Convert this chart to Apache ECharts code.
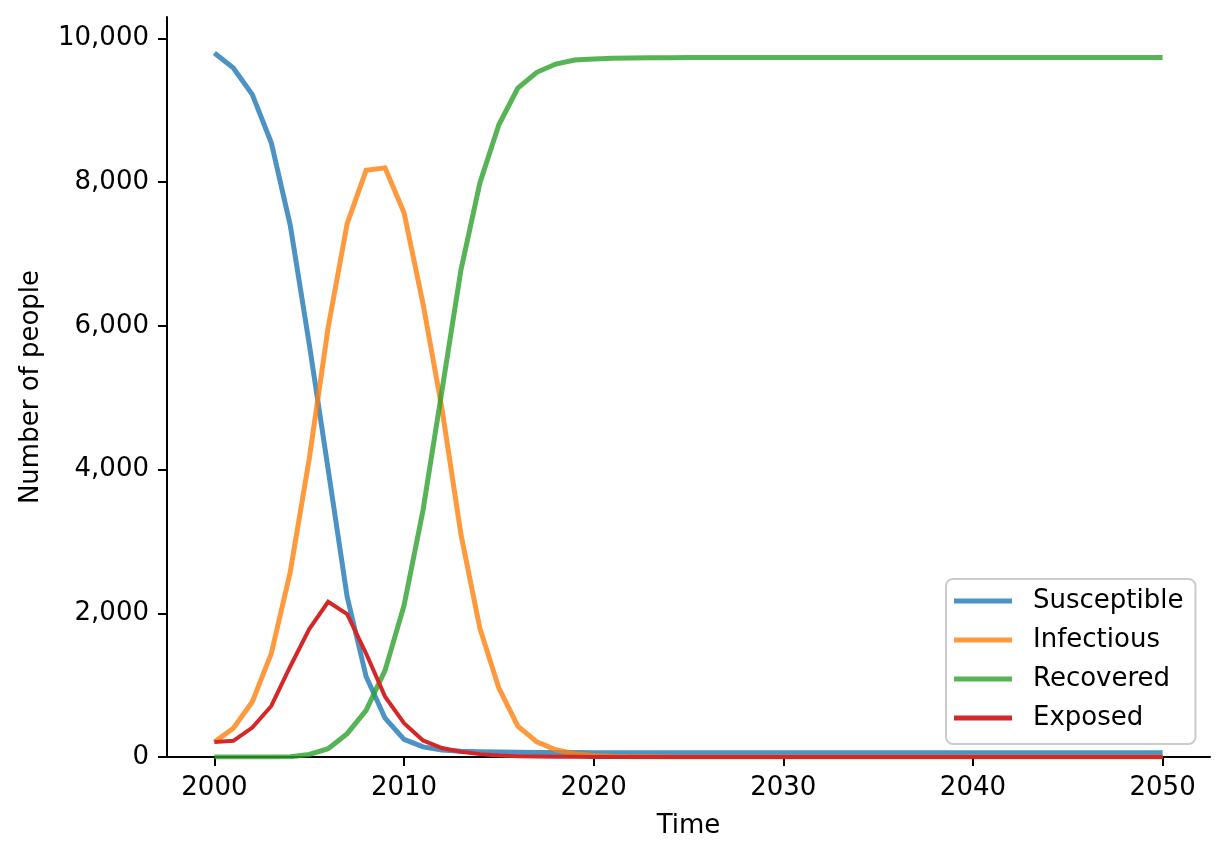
<!DOCTYPE html>
<html>
<head>
<meta charset="utf-8">
<script src="https://cdn.jsdelivr.net/npm/echarts@6/dist/echarts.min.js"></script>
<style>
html,body{margin:0;padding:0;background:#fff;}
#chart{width:1228px;height:858px;}
</style>
</head>
<body>
<div id="chart"></div>
<script>
const years = [];
for (let y = 2000; y <= 2050; y++) years.push(y);

const susceptible = [9800, 9590, 9220, 8550, 7400, 5750, 4000, 2230, 1120, 540,
  245, 140, 97, 80, 72, 68, 65, 63, 62, 61,
  60, 60, 60, 60, 60, 60, 60, 60, 60, 60,
  60, 60, 60, 60, 60, 60, 60, 60, 60, 60,
  60, 60, 60, 60, 60, 60, 60, 60, 60, 60, 60];
const infectious = [210, 400, 770, 1440, 2575, 4150, 5980, 7425, 8165, 8200,
  7575, 6310, 4850, 3100, 1790, 960, 430, 210, 100, 45,
  20, 9, 4, 2, 1, 0, 0, 0, 0, 0,
  0, 0, 0, 0, 0, 0, 0, 0, 0, 0,
  0, 0, 0, 0, 0, 0, 0, 0, 0, 0, 0];
const recovered = [0, 0, 0, 0, 5, 35, 115, 325, 650, 1205,
  2110, 3435, 5100, 6780, 7990, 8800, 9310, 9530, 9645, 9700,
  9715, 9725, 9730, 9732, 9734, 9735, 9736, 9737, 9738, 9738,
  9738, 9738, 9738, 9738, 9738, 9738, 9738, 9738, 9738, 9738,
  9738, 9738, 9738, 9738, 9738, 9738, 9738, 9738, 9738, 9738, 9738];
const exposed = [210, 225, 410, 710, 1260, 1780, 2160, 1990, 1440, 840,
  470, 230, 125, 72, 40, 22, 12, 6, 3, 2,
  1, 0, 0, 0, 0, 0, 0, 0, 0, 0,
  0, 0, 0, 0, 0, 0, 0, 0, 0, 0,
  0, 0, 0, 0, 0, 0, 0, 0, 0, 0, 0];

const xTicks = [2000, 2010, 2020, 2030, 2040, 2050];
const yTicks = [0, 2000, 4000, 6000, 8000, 10000];
const seriesNames = ['Susceptible', 'Infectious', 'Recovered', 'Exposed'];

const FONT = 'DejaVu Sans';
const pair = arr => years.map((y, i) => [y, arr[i]]);

const chart = echarts.init(document.getElementById('chart'), null, {renderer: 'canvas'});

function mkSeries(name, data, color, width) {
  return {
    name: name, type: 'line', data: pair(data),
    symbol: 'none', showSymbol: false, smooth: false,
    lineStyle: {color: color, width: width, cap: 'butt', join: 'miter'},
    itemStyle: {color: color},
    emphasis: {disabled: true}
  };
}

chart.setOption({
  animation: false,
  backgroundColor: '#ffffff',
  textStyle: {fontFamily: FONT},
  grid: {left: 167, right: 18, top: 17, bottom: 101, containLabel: false},
  legend: {
    orient: 'vertical',
    left: 946, top: 579,
    data: seriesNames,
    icon: 'rect',
    itemWidth: 58, itemHeight: 5, itemGap: 9,
    textStyle: {fontFamily: FONT, fontSize: 26, color: '#000', lineHeight: 30, padding: [0, 0, 0, 16]},
    backgroundColor: 'rgba(255,255,255,0.8)',
    borderColor: '#cccccc', borderWidth: 2, borderRadius: 7,
    padding: [7, 12, 11, 8]
  },
  xAxis: {
    type: 'value', min: 1997.5, max: 2052.5,
    name: 'Time', nameLocation: 'middle', nameGap: 56,
    nameTextStyle: {fontFamily: FONT, fontSize: 26, color: '#000'},
    axisLine: {show: true, onZero: false, lineStyle: {color: '#000', width: 2}},
    axisTick: {show: true, customValues: xTicks, length: 9, lineStyle: {color: '#000', width: 2}},
    axisLabel: {show: true, customValues: xTicks, fontFamily: FONT, fontSize: 26, color: '#000', margin: 18,
      formatter: v => String(v)},
    splitLine: {show: false}
  },
  yAxis: {
    type: 'value', min: 0, max: 10300,
    name: 'Number of people', nameLocation: 'middle', nameGap: 123,
    nameTextStyle: {fontFamily: FONT, fontSize: 26, color: '#000'},
    axisLine: {show: true, lineStyle: {color: '#000', width: 2}},
    axisTick: {show: true, customValues: yTicks, length: 9, lineStyle: {color: '#000', width: 2}},
    axisLabel: {show: true, customValues: yTicks, fontFamily: FONT, fontSize: 26, color: '#000', margin: 18,
      formatter: v => Number(v).toLocaleString('en-US')},
    splitLine: {show: false}
  },
  series: [
    mkSeries(seriesNames[0], susceptible, 'rgba(31,119,180,0.8)', 5),
    mkSeries(seriesNames[1], infectious, 'rgba(255,127,14,0.8)', 5),
    mkSeries(seriesNames[2], recovered, 'rgba(44,160,44,0.8)', 5),
    mkSeries(seriesNames[3], exposed, '#d62728', 4)
  ]
});
</script>
</body>
</html>
